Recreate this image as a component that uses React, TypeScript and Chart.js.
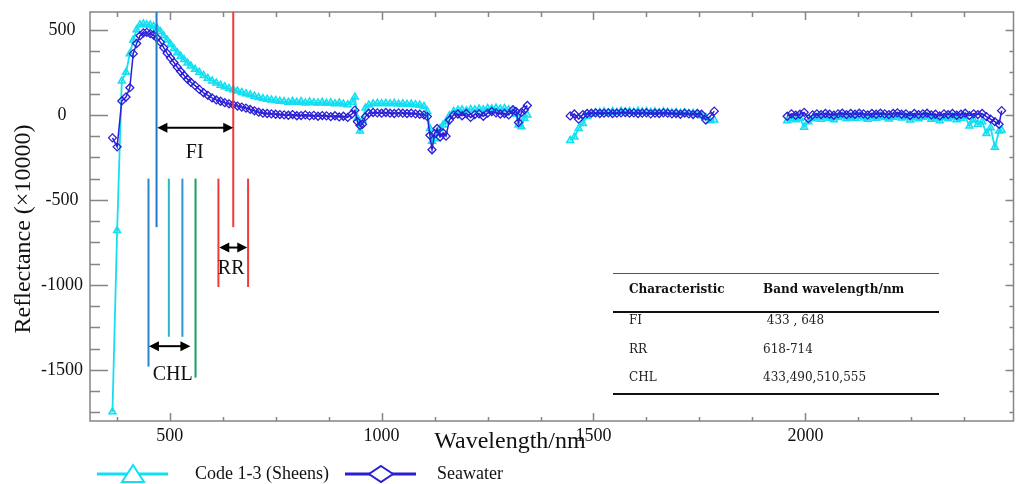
import React, { useEffect, useRef } from "react";
import { Chart, registerables } from "chart.js";

Chart.register(...registerables);

// ---------- DATA ----------
// wavelength (nm); null rows mark the gaps (water absorption bands)
const wavelengths: number[] = [
  // segment 1
  365, 376, 387, 397, 406, 414, 422, 430, 438, 446,
  454, 462, 470, 478, 486, 494, 502, 510, 518, 526,
  534, 542, 550, 560, 570, 580, 590, 600, 610, 620,
  630, 640, 650, 660, 670, 680, 690, 700, 710, 720,
  730, 740, 750, 760, 770, 780, 790, 800, 810, 820,
  830, 840, 850, 860, 870, 880, 890, 900, 910, 920,
  930, 937, 943, 949, 955, 962, 970, 980, 990, 1000,
  1010, 1020, 1030, 1040, 1050, 1060, 1070, 1080, 1090, 1100,
  1108, 1114, 1119, 1125, 1131, 1138, 1145, 1152, 1160, 1170,
  1180, 1190, 1200, 1210, 1220, 1230, 1240, 1250, 1260, 1270,
  1280, 1290, 1300, 1310, 1317, 1323, 1330, 1337, 1344,
  // gap
  1400,
  // segment 2
  1445, 1455, 1465, 1475, 1485, 1495, 1505, 1515, 1525, 1535,
  1545, 1555, 1565, 1575, 1585, 1595, 1605, 1615, 1625, 1635,
  1645, 1655, 1665, 1675, 1685, 1695, 1705, 1715, 1725, 1735,
  1745, 1755, 1765, 1775, 1785,
  // gap
  1870,
  // segment 3
  1957, 1967, 1977, 1987, 1997, 2007, 2017, 2027, 2037, 2047,
  2057, 2067, 2077, 2087, 2097, 2107, 2117, 2127, 2137, 2147,
  2157, 2167, 2177, 2187, 2197, 2207, 2217, 2227, 2237, 2247,
  2257, 2267, 2277, 2287, 2297, 2307, 2317, 2327, 2337, 2347,
  2357, 2367, 2377, 2387, 2397, 2407, 2417, 2427, 2437, 2447,
  2457, 2463,
];

// Code 1-3 (Sheens) reflectance (x10000)
const sheens: (number | null)[] = [
  -1746, -680, 200, 250, 360, 440, 500, 530, 535, 530,
  528, 520, 510, 490, 465, 440, 415, 390, 365, 345,
  325, 305, 288, 268, 250, 232, 215, 200, 188, 175,
  165, 155, 148, 140, 132, 125, 118, 110, 102, 96,
  92, 88, 85, 80, 78, 75, 80, 74, 78, 70,
  76, 72, 70, 74, 68, 72, 66, 70, 64, 60,
  75, 105, -20, -95, -30, 40, 58, 65, 68, 66,
  68, 65, 68, 64, 66, 62, 64, 60, 58, 50,
  20, -80, -155, -140, -110, -80, -60, -40, -5, 20,
  28, 30, 25, 32, 30, 35, 30, 38, 36, 40,
  35, 38, 30, 25, 5, -60, -70, -20, 0,
  null,
  -150, -130, -80, -50, -10, 5, 12, 15, 18, 12,
  20, 15, 22, 18, 20, 16, 22, 18, 20, 16,
  18, 14, 18, 15, 12, 14, 10, 12, 8, 10,
  5, -5, -15, -35, -30,
  null,
  -35, -22, -28, -20, -72, -40, -22, -15, -25, -12,
  -20, -28, -15, -10, -22, -14, -20, -8, -18, -25,
  -12, -20, -10, -16, -24, -14, -6, -18, -12, -30,
  -15, -22, -14, -8, -26, -18, -35, -16, -22, -12,
  -28, -20, -10, -65, -30, -55, -40, -110, -75, -190,
  -95, -90,
];

// Seawater reflectance (x10000)
const seawater: (number | null)[] = [
  -135, -188, 82, 105, 160, 360, 420, 465, 482, 485,
  478, 470, 452, 428, 395, 362, 335, 308, 280, 255,
  232, 210, 192, 172, 150, 130, 115, 100, 88, 80,
  72, 65, 60, 52, 46, 40, 32, 24, 16, 10,
  8, 6, 4, 2, 0, -2, 2, -5, -4, 0,
  -6, -3, -8, -4, -6, -10, -5, -12, -8, -15,
  5, 28, -40, -62, -55, -10, 10, 14, 12, 10,
  14, 10, 8, 12, 10, 8, 10, 6, 4, 0,
  -10, -120, -205, -110, -80, -130, -105, -125, -30, 0,
  5, -5, 8, -15, 2, 6, -8, 10, 20, 12,
  5, 8, 0, 30, 20, -45, 15, 30, 55,
  null,
  -6, 5, -25, 2, 8, 10, 12, 8, 10, 12,
  8, 10, 12, 14, 10, 12, 8, 10, 12, 6,
  10, 8, 12, 10, 6, 8, 4, 10, 6, 2,
  8, 4, -30, -10, 22,
  null,
  -8, 6, -2, 4, 15, -22, 0, 6, 2, 8,
  4, -2, 6, 10, 2, 8, 4, 10, 6, 0,
  8, 4, 10, 6, 2, 8, 12, 4, 6, -4,
  8, 2, 6, 10, 0, 4, -6, 6, 2, 8,
  -2, 4, 10, -4, 6, 2, 8, -10, -25, -40,
  -55, 25,
];

const seriesNames = ["Code 1-3 (Sheens)", "Seawater"];
const xTickValues = [500, 1000, 1500, 2000];
const yTickValues = [500, 0, -500, -1000, -1500];
const xMinorStep = 125;
const yMinorStep = 125;

const tableHeader = ["Characteristic", "Band wavelength/nm"];
const tableCol1 = ["FI", "RR", "CHL"];
const tableCol2 = [" 433 , 648", "618-714", "433,490,510,555"];

// annotation marks (data units, as drawn in the figure)
const annoVLines = [
  { x: 469, y1: 605, y2: -660, color: "#1f7bc8" },
  { x: 650, y1: 605, y2: -660, color: "#f23a3a" },
  { x: 450, y1: -375, y2: -1480, color: "#2a86c6" },
  { x: 498, y1: -375, y2: -1305, color: "#2cb6c4" },
  { x: 530, y1: -375, y2: -1305, color: "#2f94d2" },
  { x: 561, y1: -375, y2: -1545, color: "#14a262" },
  { x: 615, y1: -375, y2: -1012, color: "#f23a3a" },
  { x: 685, y1: -375, y2: -1012, color: "#f23a3a" },
];
const annoArrows = [
  { x1: 471, x2: 650, y: -76 },
  { x1: 451, x2: 549, y: -1360 },
  { x1: 617, x2: 683, y: -780 },
];
const annoLabels = [
  { text: "FI", x: 559, y: -221 },
  { text: "CHL", x: 507, y: -1530 },
  { text: "RR", x: 645, y: -902 },
];

const SERIF = '"Liberation Serif", "Times New Roman", serif';
const CYAN = "#12dff0";
const BLUE = "#2b1fd6";

const decorPlugin = {
  id: "decor",
  afterDatasetsDraw(chart: any) {
    const ctx: CanvasRenderingContext2D = chart.ctx;
    const { left, right, top, bottom } = chart.chartArea;
    const xs = chart.scales.x;
    const ys = chart.scales.y;
    ctx.save();

    // frame
    ctx.strokeStyle = "#858585";
    ctx.lineWidth = 1.5;
    ctx.strokeRect(left, top, right - left, bottom - top);

    // inward ticks
    ctx.beginPath();
    for (let v = Math.ceil(xs.min / xMinorStep) * xMinorStep; v <= xs.max; v += xMinorStep) {
      const px = Math.round(xs.getPixelForValue(v)) + 0.5;
      const major = v % 500 === 0;
      ctx.moveTo(px, bottom);
      ctx.lineTo(px, bottom - (major ? 8 : 4));
      ctx.moveTo(px, top);
      ctx.lineTo(px, top + (major ? 8 : 5));
    }
    for (let v = Math.ceil(ys.min / yMinorStep) * yMinorStep; v <= ys.max; v += yMinorStep) {
      const py = Math.round(ys.getPixelForValue(v)) + 0.5;
      const major = v % 500 === 0;
      ctx.moveTo(left, py);
      ctx.lineTo(left + (major ? 18 : 10), py);
      ctx.moveTo(right, py);
      ctx.lineTo(right - (major ? 8 : 4), py);
    }
    ctx.stroke();

    // tick labels
    ctx.fillStyle = "#111";
    ctx.font = `18px ${SERIF}`;
    ctx.textAlign = "center";
    ctx.textBaseline = "middle";
    for (const v of xTickValues) ctx.fillText(String(v), xs.getPixelForValue(v), 436);
    for (const v of yTickValues) ctx.fillText(String(v), 62, ys.getPixelForValue(v));

    // annotation lines
    ctx.lineWidth = 2;
    for (const l of annoVLines) {
      const px = xs.getPixelForValue(l.x);
      ctx.strokeStyle = l.color;
      ctx.beginPath();
      ctx.moveTo(px, ys.getPixelForValue(l.y1));
      ctx.lineTo(px, ys.getPixelForValue(l.y2));
      ctx.stroke();
    }
    // arrows
    ctx.strokeStyle = "#000";
    ctx.fillStyle = "#000";
    for (const a of annoArrows) {
      const x1 = xs.getPixelForValue(a.x1);
      const x2 = xs.getPixelForValue(a.x2);
      const y = ys.getPixelForValue(a.y);
      const h = 10, w = 5;
      ctx.lineWidth = 2;
      ctx.beginPath();
      ctx.moveTo(x1 + h - 1, y);
      ctx.lineTo(x2 - h + 1, y);
      ctx.stroke();
      ctx.beginPath();
      ctx.moveTo(x1, y);
      ctx.lineTo(x1 + h, y - w);
      ctx.lineTo(x1 + h, y + w);
      ctx.closePath();
      ctx.fill();
      ctx.beginPath();
      ctx.moveTo(x2, y);
      ctx.lineTo(x2 - h, y - w);
      ctx.lineTo(x2 - h, y + w);
      ctx.closePath();
      ctx.fill();
    }
    ctx.font = `20px ${SERIF}`;
    ctx.fillStyle = "#111";
    for (const t of annoLabels) {
      ctx.fillText(t.text, xs.getPixelForValue(t.x), ys.getPixelForValue(t.y));
    }

    // axis titles
    ctx.font = `24px ${SERIF}`;
    ctx.fillText("Wavelength/nm", 510, 442);
    ctx.save();
    ctx.translate(24, 229);
    ctx.rotate(-Math.PI / 2);
    ctx.font = `24px ${SERIF}`;
    ctx.fillText("Reflectance (\u00d710000)", 0, 0);
    ctx.restore();

    // legend
    const ly = 474;
    ctx.lineWidth = 3;
    ctx.strokeStyle = CYAN;
    ctx.beginPath();
    ctx.moveTo(97, ly);
    ctx.lineTo(168, ly);
    ctx.stroke();
    ctx.lineWidth = 2;
    ctx.fillStyle = "#fff";
    ctx.beginPath();
    ctx.moveTo(133, ly - 9);
    ctx.lineTo(144, ly + 8);
    ctx.lineTo(122, ly + 8);
    ctx.closePath();
    ctx.fill();
    ctx.stroke();
    ctx.lineWidth = 3;
    ctx.strokeStyle = BLUE;
    ctx.beginPath();
    ctx.moveTo(345, ly);
    ctx.lineTo(416, ly);
    ctx.stroke();
    ctx.lineWidth = 2;
    ctx.beginPath();
    ctx.moveTo(381, ly - 8);
    ctx.lineTo(393, ly);
    ctx.lineTo(381, ly + 8);
    ctx.lineTo(369, ly);
    ctx.closePath();
    ctx.fill();
    ctx.stroke();
    ctx.fillStyle = "#111";
    ctx.textAlign = "left";
    ctx.font = `18px ${SERIF}`;
    ctx.fillText(seriesNames[0], 195, ly);
    ctx.fillText(seriesNames[1], 437, ly);

    // table
    const tx1 = 613, tx2 = 939;
    ctx.strokeStyle = "#555";
    ctx.lineWidth = 1;
    ctx.beginPath();
    ctx.moveTo(tx1, 273.5);
    ctx.lineTo(tx2, 273.5);
    ctx.stroke();
    ctx.strokeStyle = "#111";
    ctx.lineWidth = 2;
    ctx.beginPath();
    ctx.moveTo(tx1, 312);
    ctx.lineTo(tx2, 312);
    ctx.moveTo(tx1, 394);
    ctx.lineTo(tx2, 394);
    ctx.stroke();
    ctx.fillStyle = "#111";
    ctx.font = `bold 12px "DejaVu Serif", serif`;
    ctx.fillText(tableHeader[0], 629, 290);
    ctx.fillText(tableHeader[1], 763, 290);
    ctx.font = `12px "DejaVu Serif", serif`;
    ctx.fillStyle = "#222";
    const rowY = [321, 350, 378];
    tableCol1.forEach((t, i) => {
      ctx.fillText(t, 629, rowY[i]);
      ctx.fillText(tableCol2[i], 763, rowY[i]);
    });

    ctx.restore();
  },
};

export default function App() {
  const ref = useRef<HTMLCanvasElement | null>(null);
  useEffect(() => {
    if (!ref.current) return;
    const mk = (ys: (number | null)[]) => wavelengths.map((w, i) => ({ x: w, y: ys[i] }));
    const chart = new Chart(ref.current, {
      type: "line",
      data: {
        datasets: [
          {
            label: seriesNames[0],
            data: mk(sheens) as any,
            borderColor: CYAN,
            backgroundColor: "rgba(18,223,240,0.35)",
            borderWidth: 1.8,
            pointStyle: "triangle",
            pointRadius: 4,
            pointBorderWidth: 1.5,
            pointBorderColor: CYAN,
            pointBackgroundColor: "rgba(18,223,240,0.35)",
            spanGaps: false,
            order: 1,
          },
          {
            label: seriesNames[1],
            data: mk(seawater) as any,
            borderColor: BLUE,
            backgroundColor: "rgba(0,0,0,0)",
            borderWidth: 1.5,
            pointStyle: "rectRot",
            pointRadius: 4,
            pointBorderWidth: 1.3,
            pointBorderColor: BLUE,
            pointBackgroundColor: "rgba(0,0,0,0)",
            spanGaps: false,
            order: 0,
          },
        ],
      },
      options: {
        animation: false,
        responsive: false,
        maintainAspectRatio: false,
        devicePixelRatio: 1,
        layout: { padding: { top: 12, right: 2, left: 0, bottom: 0 } },
        plugins: { legend: { display: false }, tooltip: { enabled: false } },
        scales: {
          x: {
            type: "linear",
            min: 312,
            max: 2491,
            grid: { display: false, drawTicks: false },
            border: { display: false },
            ticks: { display: false },
            afterBuildTicks: (s: any) => {
              s.ticks = xTickValues.map((v) => ({ value: v }));
            },
            afterFit: (s: any) => {
              s.height = 63;
            },
          },
          y: {
            type: "linear",
            min: -1800,
            max: 605,
            grid: { display: false, drawTicks: false },
            border: { display: false },
            ticks: { display: false },
            afterBuildTicks: (s: any) => {
              s.ticks = yTickValues.map((v) => ({ value: v }));
            },
            afterFit: (s: any) => {
              s.width = 90;
            },
          },
        },
      },
      plugins: [decorPlugin],
    });
    return () => chart.destroy();
  }, []);
  return (
    <div style={{ position: "absolute", left: 0, top: 0, width: 1019, height: 484, background: "#fff" }}>
      <canvas ref={ref} width={1019} height={484} style={{ display: "block" }} />
    </div>
  );
}
